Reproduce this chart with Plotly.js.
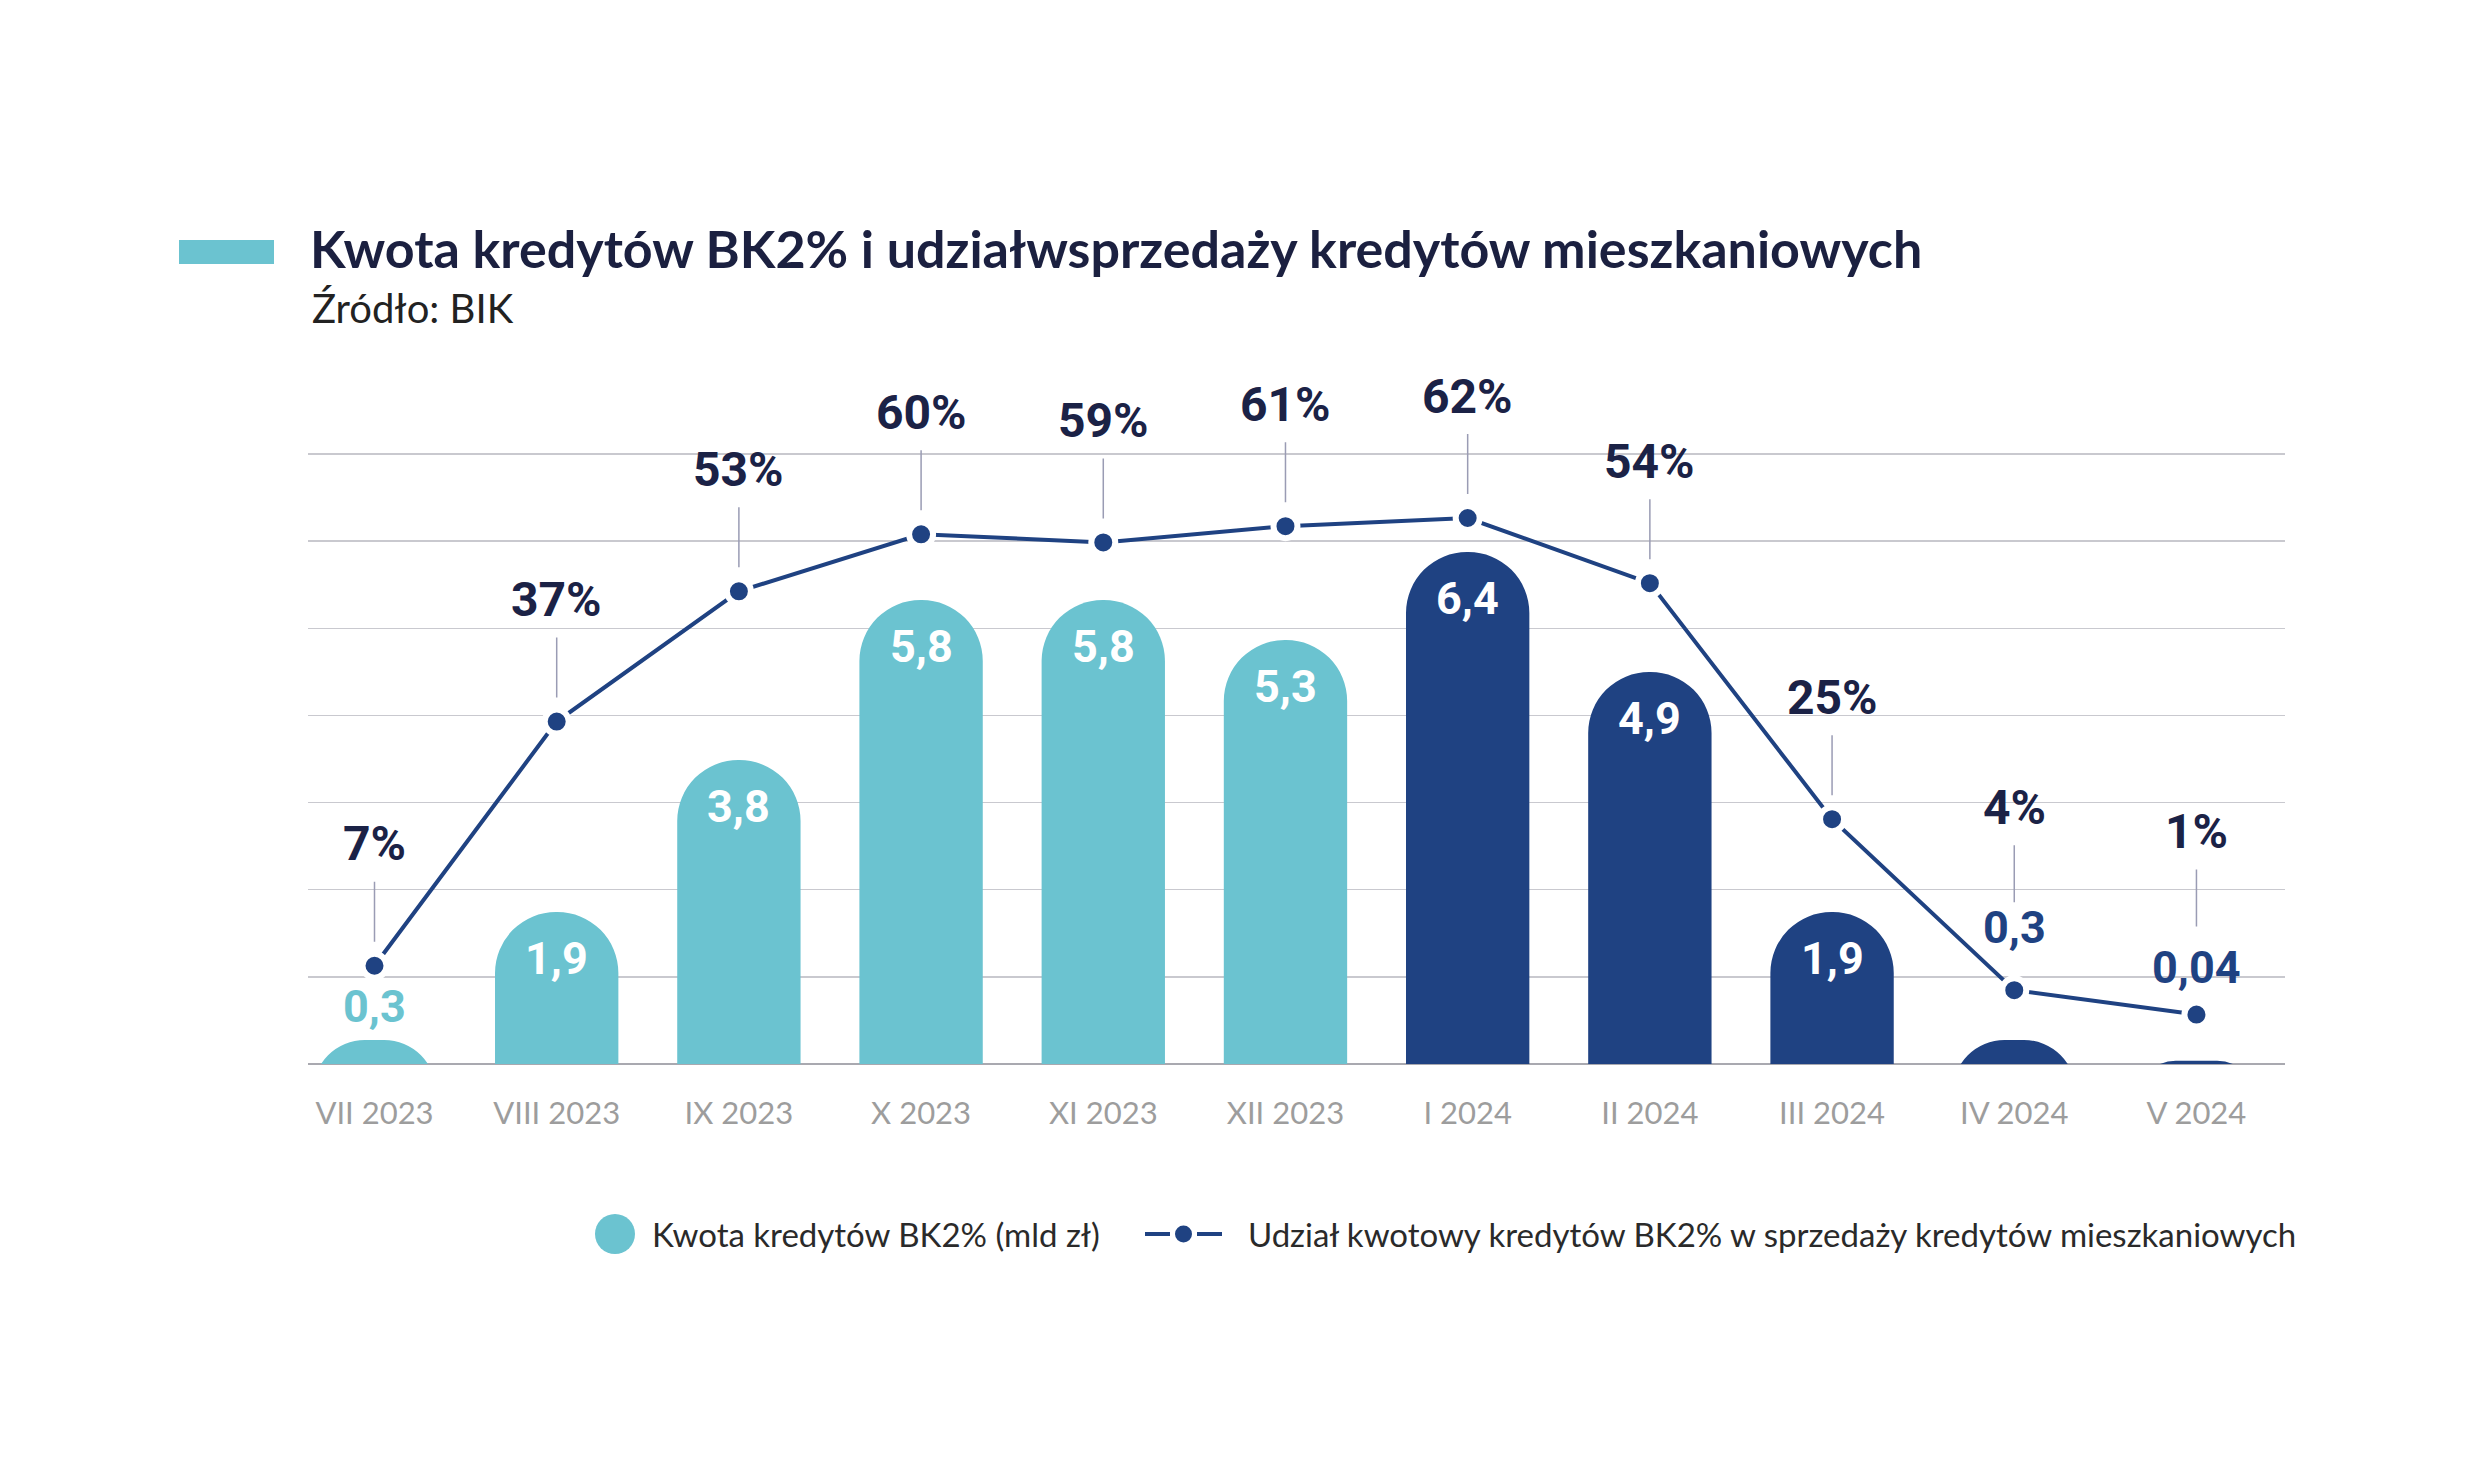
<!DOCTYPE html>
<html>
<head>
<meta charset="utf-8">
<script src="https://cdn.plot.ly/plotly-3.0.1.min.js"></script>
<style>html,body{margin:0;padding:0;background:#fff;}#chart{width:2480px;height:1480px;}</style>
</head>
<body>
<div id="chart"></div>
<script>
// ---- data ----
const months = ['VII 2023','VIII 2023','IX 2023','X 2023','XI 2023','XII 2023','I 2024','II 2024','III 2024','IV 2024','V 2024'];
const amounts = [0.3, 1.9, 3.8, 5.8, 5.8, 5.3, 6.4, 4.9, 1.9, 0.3, 0.04];
const shares = [7, 37, 53, 60, 59, 61, 62, 54, 25, 4, 1];
const seriesAmount = 'Kwota kredytów BK2% (mld zł)';
const seriesShare = 'Udział kwotowy kredytów BK2% w sprzedaży kredytów mieszkaniowych';
const titleText = 'Kwota kredytów BK2% i udziałwsprzedaży kredytów mieszkaniowych';
const sourceText = 'Źródło: BIK';

// ---- styles ----
const TEAL = '#6bc3d0';
const NAVY = '#1f4282';
const DARK = '#1b2246';
const barColors = months.map((m, i) => i < 6 ? TEAL : NAVY);
const labelShift = [34, -46, -46, -46, -46, -46, -46, -46, -46, 113, 93];
const labelColor = [TEAL, '#fff', '#fff', '#fff', '#fff', '#fff', '#fff', '#fff', '#fff', NAVY, NAVY];
const pctOffset = [-122, -122, -122, -122, -122, -122, -122, -122, -122, -183, -183];
const pctStandoff = [24, 24, 24, 24, 24, 24, 24, 24, 24, 88, 88];
const NARROW = 'Roboto, "DejaVu Sans Condensed", sans-serif';
const MAIN = 'Lato, "Noto Sans", sans-serif';
// bars start below the (clipped) baseline so that short bars show only the rounded cap
const BAR_BASE = -1;

// plot geometry (px)
const W = 2480, H = 1480;
const L = 308, R = 195, T = 448, B = 416;
const PW = W - L - R, PH = H - T - B;
const px = x => (x - L) / PW;
const py = y => (H - B - y) / PH;

const yTop = 7.7;
const gridStep = 7.625 / 7;

const fmt = v => String(v).replace('.', ',');

const traces = [
  {
    type: 'bar', x: months, y: amounts.map(a => a - BAR_BASE), base: BAR_BASE,
    customdata: amounts, hovertemplate: '%{x}: %{customdata}<extra></extra>',
    name: seriesAmount,
    marker: {color: barColors, cornerradius: '50%'},
    width: 0.677, showlegend: false, cliponaxis: true
  },
  {
    type: 'scatter', mode: 'lines+markers', x: months, y: shares, yaxis: 'y2', name: seriesShare,
    line: {color: NAVY, width: 4},
    marker: {color: NAVY, size: 24, line: {color: '#fff', width: 6}},
    showlegend: false, cliponaxis: false
  }
];

const annotations = [];
months.forEach((m, i) => {
  annotations.push({
    x: m, y: amounts[i], xref: 'x', yref: 'y', text: fmt(amounts[i]),
    showarrow: false, yshift: labelShift[i], yanchor: 'middle',
    font: {family: NARROW, size: 45, color: labelColor[i], weight: 700, stretch: 'condensed'}
  });
  annotations.push({
    x: m, y: shares[i], xref: 'x', yref: 'y2', text: shares[i] + '%',
    showarrow: true, ax: 0, ay: pctOffset[i], axref: 'pixel', ayref: 'pixel',
    arrowhead: 0, arrowwidth: 1.5, arrowcolor: '#9a9cb4', standoff: pctStandoff[i], startstandoff: 8,
    font: {family: NARROW, size: 48, color: DARK, weight: 700, stretch: 'condensed'}
  });
});

// subtitle
annotations.push({
  xref: 'paper', yref: 'paper', x: px(310), y: py(308), xanchor: 'left', yanchor: 'middle',
  text: sourceText, showarrow: false, font: {family: MAIN, size: 40, color: '#222'}
});
// manual legend texts
annotations.push({
  xref: 'paper', yref: 'paper', x: px(650), y: py(1234), xanchor: 'left', yanchor: 'middle',
  text: seriesAmount, showarrow: false, font: {family: MAIN, size: 33, color: '#2a2a2a'}
});
annotations.push({
  xref: 'paper', yref: 'paper', x: px(1246), y: py(1234), xanchor: 'left', yanchor: 'middle',
  text: seriesShare, showarrow: false, font: {family: MAIN, size: 33, color: '#2a2a2a'}
});

const shapes = [
  // title colour bar
  {type: 'rect', xref: 'paper', yref: 'paper', x0: px(179), x1: px(274), y0: py(264), y1: py(240),
   fillcolor: TEAL, line: {width: 0}},
  // legend: teal circle
  {type: 'circle', xref: 'paper', yref: 'paper', x0: px(595), x1: px(635), y0: py(1254), y1: py(1214),
   fillcolor: TEAL, line: {width: 0}},
  // legend: line with dot
  {type: 'line', xref: 'paper', yref: 'paper', x0: px(1145), x1: px(1170), y0: py(1234), y1: py(1234),
   line: {color: NAVY, width: 4}},
  {type: 'line', xref: 'paper', yref: 'paper', x0: px(1197), x1: px(1222), y0: py(1234), y1: py(1234),
   line: {color: NAVY, width: 4}},
  {type: 'circle', xref: 'paper', yref: 'paper', x0: px(1175), x1: px(1192), y0: py(1242.5), y1: py(1225.5),
   fillcolor: NAVY, line: {width: 0}}
];

const layout = {
  width: W, height: H,
  margin: {l: L, r: R, t: T, b: B, pad: 0},
  paper_bgcolor: '#fff', plot_bgcolor: '#fff',
  showlegend: false,
  title: {
    text: titleText, xref: 'container', yref: 'container',
    x: 310 / W, xanchor: 'left', y: 1 - 250 / H, yanchor: 'middle',
    font: {family: MAIN, size: 52, color: '#1b2040', weight: 700}
  },
  xaxis: {
    type: 'category', range: [-0.365, 10.486], showgrid: false, zeroline: false,
    showline: false, ticks: '', ticklabelstandoff: 28,
    tickfont: {family: MAIN, size: 31, color: '#9d9d9d'}, fixedrange: true
  },
  yaxis: {
    range: [0, yTop], tick0: 0, dtick: gridStep, showticklabels: false, ticks: '',
    showgrid: true, gridcolor: '#c9c9cf', gridwidth: 1.5,
    zeroline: true, zerolinecolor: '#a9a9b0', zerolinewidth: 2, showline: false
  },
  yaxis2: {
    overlaying: 'y', side: 'right', range: [-5.07, 70.6], showgrid: false,
    zeroline: false, showticklabels: false, ticks: '', showline: false
  },
  annotations: annotations,
  shapes: shapes
};

Plotly.newPlot('chart', traces, layout, {staticPlot: true});
</script>
</body>
</html>
